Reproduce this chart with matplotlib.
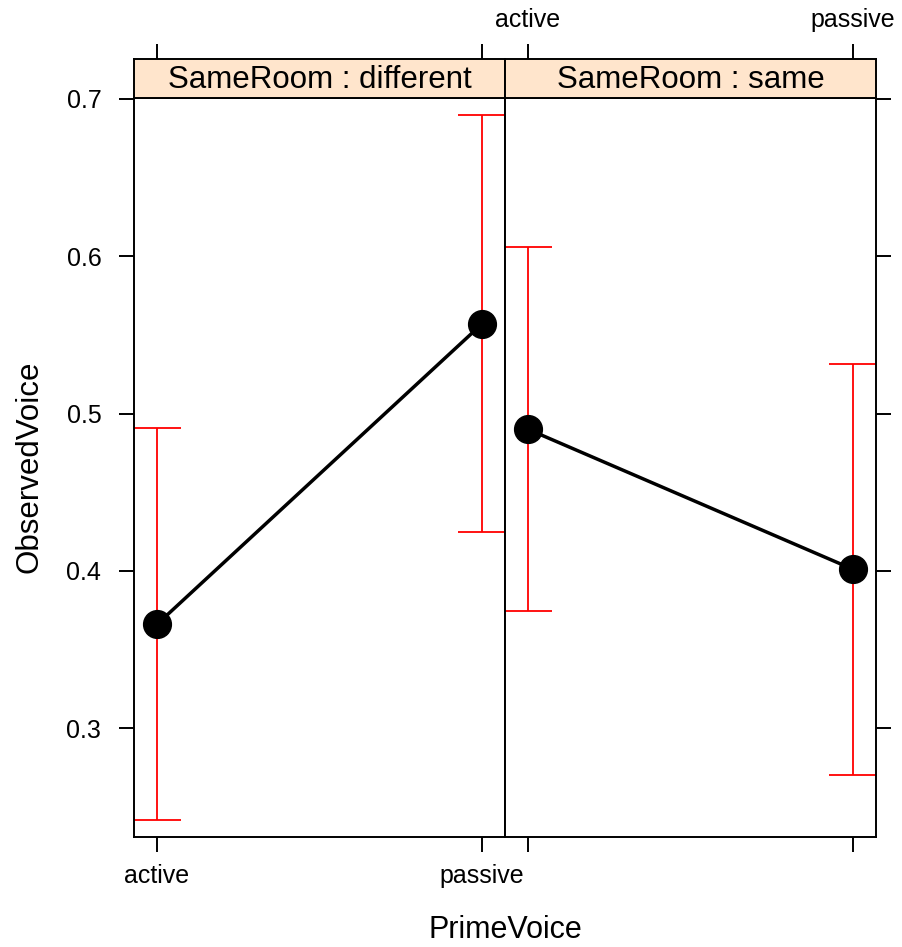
import matplotlib
matplotlib.use('Agg')
import matplotlib.pyplot as plt
import numpy as np

plt.rcParams['font.family'] = ['Liberation Sans', 'DejaVu Sans']

# data
levels = ['active', 'passive']
panels = ['SameRoom : different', 'SameRoom : same']
fit = [[0.366, 0.557], [0.490, 0.401]]
lower = [[0.2416, 0.4244], [0.3743, 0.2700]]
upper = [[0.4905, 0.6897], [0.6060, 0.5313]]
yticks = [0.3, 0.4, 0.5, 0.6, 0.7]

W, H = 902, 947
fig = plt.figure(figsize=(W / 100, H / 100), dpi=100)

left, mid, right = 134, 505, 876
top, bottom, strip_top = 98, 837, 59
tick_len = 10.5  # pt
lw_frame = 1.4

x = np.arange(len(levels))
for p in range(2):
    x0 = [left, mid][p]
    x1 = [mid, right][p]
    ax = fig.add_axes([x0 / W, 1 - bottom / H, (x1 - x0) / W, (bottom - top) / H])
    ax.set_xlim(-0.0708, 1.0708)
    ax.set_ylim(0.2308, 0.7006)

    ax.vlines(x, lower[p], upper[p], color='red', lw=1.3, zorder=2)
    ax.hlines(lower[p], x - 0.074, x + 0.074, color='red', lw=1.3, zorder=2)
    ax.hlines(upper[p], x - 0.074, x + 0.074, color='red', lw=1.3, zorder=2)
    ax.plot(x, fit[p], color='black', lw=2.5, marker='o', ms=20, zorder=3)

    for s in ax.spines.values():
        s.set_linewidth(lw_frame)
    ax.set_xticks(x)
    ax.set_yticks(yticks)
    ax.tick_params(direction='out', length=tick_len, width=lw_frame, labelsize=18)
    if p == 0:
        ax.set_xticklabels(levels)
        ax.set_yticklabels([f'{v:.1f}' for v in yticks])
        ax.tick_params(axis='x', pad=9)
        ax.tick_params(axis='y', pad=13)
    else:
        ax.set_xticklabels([])
        ax.yaxis.tick_right()
        ax.set_yticklabels([])

    # strip on top
    sx = fig.add_axes([x0 / W, 1 - top / H, (x1 - x0) / W, (top - strip_top) / H])
    sx.set_facecolor('#ffe5cc')
    sx.set_xlim(-0.0708, 1.0708)
    sx.set_ylim(0, 1)
    sx.set_yticks([])
    sx.xaxis.tick_top()
    sx.set_xticks(x)
    for s in sx.spines.values():
        s.set_linewidth(lw_frame)
    sx.tick_params(direction='out', length=tick_len, width=lw_frame, labelsize=18, pad=9)
    if p == 1:
        sx.set_xticklabels(levels)
    else:
        sx.set_xticklabels([])
    sx.text(0.5, 0.47, panels[p], transform=sx.transAxes, ha='center', va='center',
            fontsize=22.5)

fig.text(505 / W, 1 - 930 / H, 'PrimeVoice', ha='center', va='center', fontsize=22)
fig.text(30 / W, 1 - 467 / H, 'ObservedVoice', ha='center', va='center',
         rotation=90, fontsize=22.5)

fig.savefig('out.png', dpi=100)
